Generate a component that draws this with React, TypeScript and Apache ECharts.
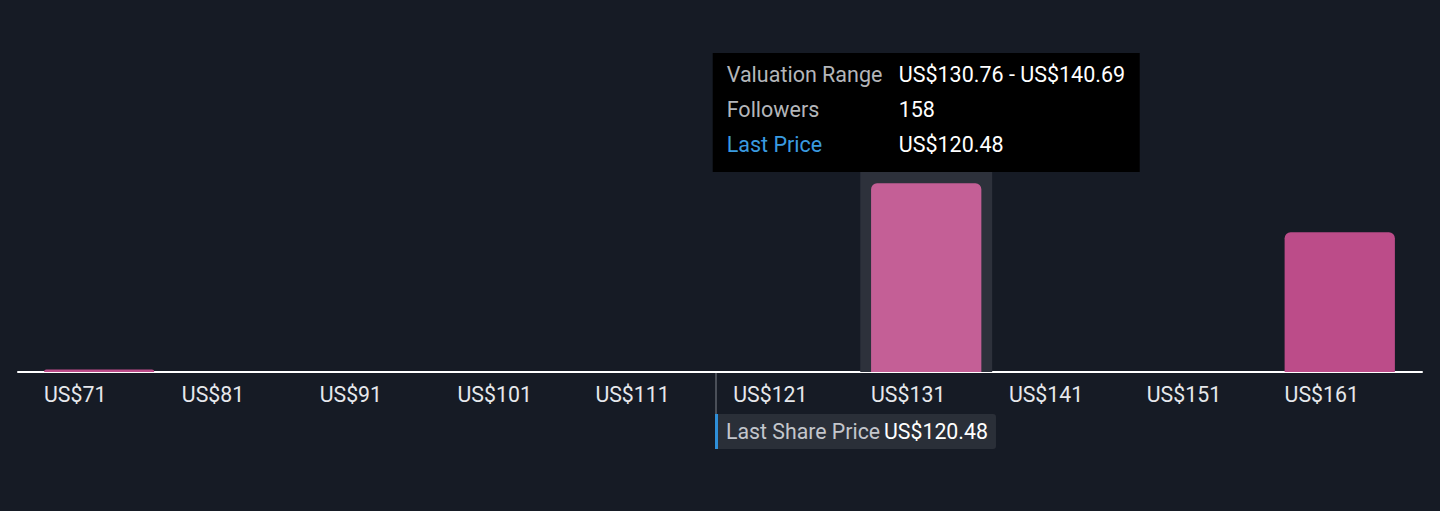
import React, { useEffect, useRef } from "react";
import * as echarts from "echarts";

// ---- data ----
const binStarts = [71.18, 81.11, 91.04, 100.97, 110.9, 120.83, 130.76, 140.69, 150.62, 160.55];
const binEnds = [81.11, 91.04, 100.97, 110.9, 120.83, 130.76, 140.69, 150.62, 160.55, 170.48];
const binLabels = ["US$71", "US$81", "US$91", "US$101", "US$111", "US$121", "US$131", "US$141", "US$151", "US$161"];
const followers = [2, 0, 0, 0, 0, 0, 158, 0, 0, 117];
const highlighted = 6;
const lastPrice = 120.48;
const lastPriceLabel = "US$120.48";
const tooltipRows = [
  { k: "Valuation Range", v: "US$130.76 - US$140.69" },
  { k: "Followers", v: "158" },
  { k: "Last Price", v: "US$120.48" },
];

const FONT = "Roboto, 'Noto Sans', sans-serif";

export default function App() {
  const ref = useRef<HTMLDivElement>(null);
  useEffect(() => {
    if (!ref.current) return;
    const chart = echarts.init(ref.current, undefined, { renderer: "svg" });
    const binData = binStarts.map((s, i) => [s, binEnds[i], followers[i], i]);
    chart.setOption({
      animation: false,
      backgroundColor: "#161b25",
      grid: { left: 18, right: 18, top: 53, bottom: 139 },
      xAxis: {
        type: "value",
        min: 70.3,
        max: 171.44,
        axisLine: { show: true, lineStyle: { color: "#ffffff", width: 2 } },
        axisTick: { show: false },
        axisLabel: { show: false },
        splitLine: { show: false },
      },
      yAxis: { type: "value", min: 0, max: 267, show: false, splitLine: { show: false } },
      series: [
        {
          type: "custom",
          silent: true,
          z: 2,
          encode: { x: [0, 1], y: 2 },
          data: binData,
          renderItem: (params: any, api: any) => {
            const s = api.value(0);
            const e = api.value(1);
            const v = api.value(2);
            const i = api.value(3);
            const p0 = api.coord([s, 0]);
            const p1 = api.coord([e, 0]);
            const top = api.coord([s, v])[1];
            const bw = p1[0] - p0[0];
            const cx = (p0[0] + p1[0]) / 2;
            const barW = bw * 0.8;
            const isHi = i === highlighted;
            const children: any[] = [];
            if (isHi) {
              const sw = bw * 0.957;
              const gy = params.coordSys.y;
              children.push({
                type: "rect",
                shape: { x: cx - sw / 2, y: gy, width: sw, height: p0[1] - gy },
                style: { fill: "#2d313b" },
              });
            }
            if (v > 0) {
              children.push({
                type: "rect",
                shape: { x: cx - barW / 2, y: top, width: barW, height: p0[1] - top, r: [6, 6, 0, 0] },
                style: { fill: isHi ? "#c45f96" : "#bc4c89" },
              });
            }
            children.push({
              type: "text",
              style: {
                text: binLabels[i],
                x: cx - barW / 2,
                y: p0[1] + 22,
                align: "left",
                verticalAlign: "middle",
                fill: "#e6e8ec",
                font: `21.3px ${FONT}`,
              },
            });
            return { type: "group", children };
          },
        },
        {
          type: "custom",
          silent: true,
          z: 3,
          encode: { x: 0 },
          data: [[lastPrice, 0]],
          renderItem: (params: any, api: any) => {
            const p = api.coord([api.value(0), 0]);
            const x = p[0] + 0.4;
            const y = p[1];
            return {
              type: "group",
              children: [
                { type: "rect", shape: { x: x, y: y + 1, width: 2, height: 42 }, style: { fill: "#4a4f58" } },
                { type: "rect", shape: { x: x, y: y + 42, width: 281, height: 35, r: [0, 3, 3, 0] }, style: { fill: "#2a2f38" } },
                { type: "rect", shape: { x: x, y: y + 42, width: 3, height: 35 }, style: { fill: "#2f8fd8" } },
                {
                  type: "text",
                  style: { text: "Last Share Price", x: x + 11, y: y + 59.5, align: "left", verticalAlign: "middle", fill: "#c3c6cc", font: `21.3px ${FONT}` },
                },
                {
                  type: "text",
                  style: { text: lastPriceLabel, x: x + 169, y: y + 59.5, align: "left", verticalAlign: "middle", fill: "#ffffff", font: `21.3px ${FONT}` },
                },
              ],
            };
          },
        },
        {
          type: "custom",
          silent: true,
          z: 10,
          encode: { x: [0, 1] },
          data: [[binStarts[highlighted], binEnds[highlighted]]],
          renderItem: (params: any, api: any) => {
            const a = api.coord([api.value(0), 0]);
            const b = api.coord([api.value(1), 0]);
            const cx = (a[0] + b[0]) / 2;
            const w = 427;
            const left = cx - w / 2;
            const top = 53;
            const children: any[] = [
              { type: "rect", shape: { x: left, y: top, width: w, height: 119 }, style: { fill: "#000000" } },
            ];
            tooltipRows.forEach((r, k) => {
              const ry = top + 21 + k * 35;
              children.push({
                type: "text",
                style: { text: r.k, x: left + 14, y: ry, align: "left", verticalAlign: "middle", fill: k === 2 ? "#3a9be0" : "#b4b6ba", font: `21.5px ${FONT}` },
              });
              children.push({
                type: "text",
                style: { text: r.v, x: left + 186, y: ry, align: "left", verticalAlign: "middle", fill: "#ffffff", font: `21.5px ${FONT}` },
              });
            });
            return { type: "group", children };
          },
        },
      ],
    });
    return () => chart.dispose();
  }, []);
  return <div ref={ref} style={{ position: "fixed", left: 0, top: 0, width: 1440, height: 511 }} />;
}
